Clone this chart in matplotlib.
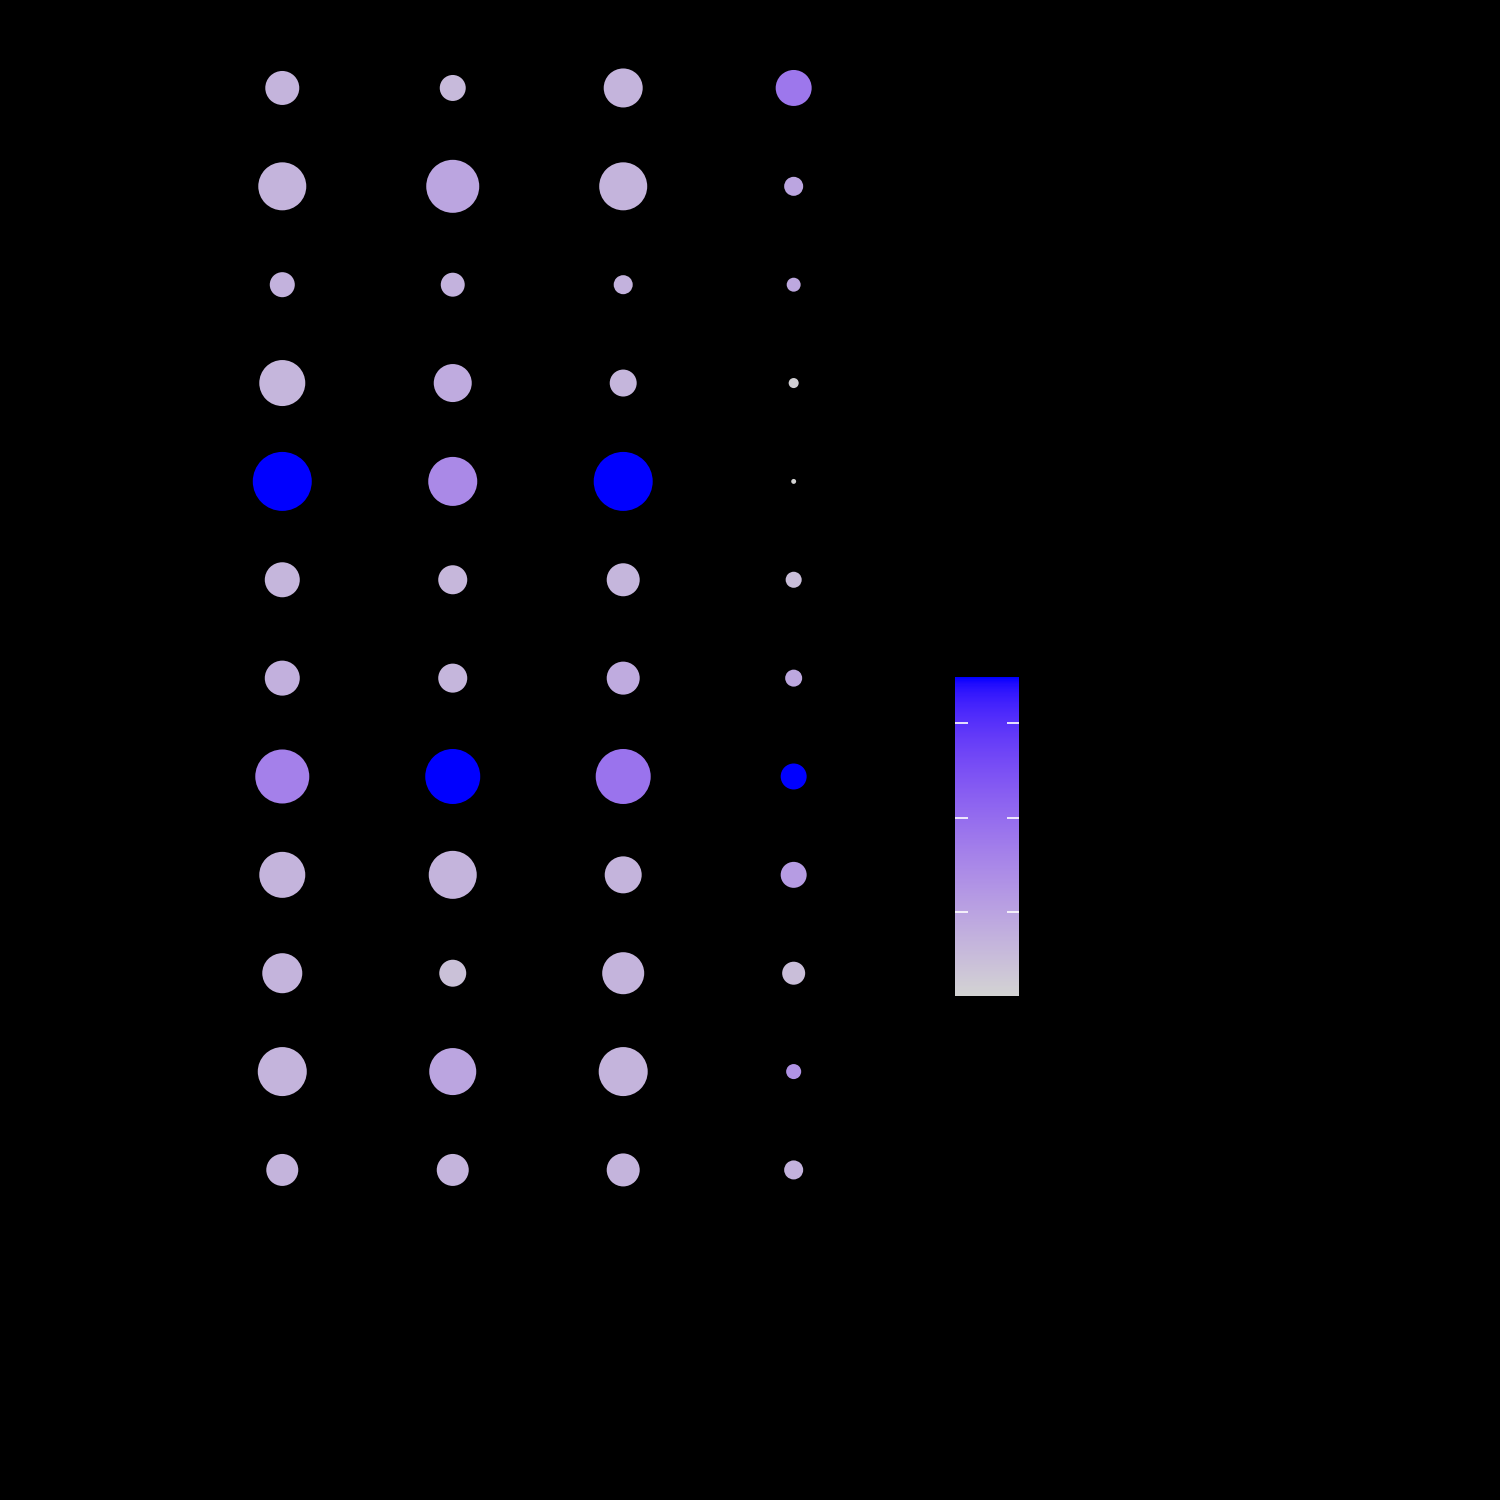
import numpy as np
import matplotlib
matplotlib.use("Agg")
import matplotlib.pyplot as plt
from matplotlib import colors as c
from matplotlib.cm import ScalarMappable

# categories (labels are drawn in black on black, as in the reference)
groups = ["1", "2", "3", "4"]
terms = ["A", "B", "C", "D", "E", "F", "G", "H", "I", "J", "K", "L"]

# size value (percent) per term, one list per group
ratio_g1 = [33.2, 66.2, 18.0, 60.8, 100.0, 35.2, 35.2, 83.8, 60.8, 46.0, 69.0, 29.4]
ratio_g2 = [19.4, 80.7, 16.5, 41.5, 69.0, 24.2, 24.2, 86.9, 66.2, 20.9, 63.5, 29.4]
ratio_g3 = [43.7, 66.2, 10.4, 20.9, 100.0, 31.3, 31.3, 86.9, 39.3, 50.7, 69.0, 31.3]
ratio_g4 = [37.2, 10.4, 5.6, 2.9, 0.7, 7.4, 8.3, 19.4, 19.4, 15.2, 6.5, 10.4]

# colour value per term, one list per group
score_g1 = [0.68, 0.68, 0.72, 0.65, 3.49, 0.65, 0.75, 1.63, 0.68, 0.68, 0.68, 0.68]
score_g2 = [0.58, 0.96, 0.72, 0.85, 1.46, 0.62, 0.65, 3.49, 0.68, 0.45, 0.96, 0.68]
score_g3 = [0.68, 0.68, 0.72, 0.65, 3.49, 0.65, 0.85, 1.87, 0.68, 0.68, 0.68, 0.68]
score_g4 = [1.80, 0.96, 0.90, 0.18, 0.11, 0.50, 0.90, 3.49, 1.12, 0.50, 1.29, 0.72]

colorbar_ticks = [1, 2, 3]


def lab_gradient(c_lo, c_hi, n=256):
    # colour ramp interpolated in CIE Lab, the way ggplot's gradient does it
    def to_lab(rgb):
        rgb = np.asarray(rgb, float)
        lin = np.where(rgb > 0.04045, ((rgb + 0.055) / 1.055) ** 2.4, rgb / 12.92)
        m = np.array([[0.4124, 0.3576, 0.1805],
                      [0.2126, 0.7152, 0.0722],
                      [0.0193, 0.1192, 0.9505]])
        xyz = m @ lin / np.array([0.95047, 1.0, 1.08883])
        f = np.where(xyz > 0.008856, np.cbrt(xyz), 7.787 * xyz + 16 / 116)
        return np.array([116 * f[1] - 16, 500 * (f[0] - f[1]), 200 * (f[1] - f[2])])

    def to_rgb(lab):
        fy = (lab[0] + 16) / 116
        fx = fy + lab[1] / 500
        fz = fy - lab[2] / 200
        f = np.array([fx, fy, fz])
        xyz = np.where(f ** 3 > 0.008856, f ** 3, (f - 16 / 116) / 7.787)
        xyz = xyz * np.array([0.95047, 1.0, 1.08883])
        m = np.array([[3.2406, -1.5372, -0.4986],
                      [-0.9689, 1.8758, 0.0415],
                      [0.0557, -0.2040, 1.0570]])
        lin = m @ xyz
        rgb = np.where(lin > 0.0031308, 1.055 * np.abs(lin) ** (1 / 2.4) - 0.055, 12.92 * lin)
        return np.clip(rgb, 0, 1)

    a, b = to_lab(c.to_rgb(c_lo)), to_lab(c.to_rgb(c_hi))
    cols = [to_rgb(a + (b - a) * t) for t in np.linspace(0, 1, n)]
    return c.ListedColormap(cols)


cmap = lab_gradient("lightgrey", "blue")

ratios = [ratio_g1, ratio_g2, ratio_g3, ratio_g4]
scores = [score_g1, score_g2, score_g3, score_g4]
all_r = np.concatenate(ratios)
all_s = np.concatenate(scores)
norm = c.Normalize(vmin=all_s.min(), vmax=all_s.max())

fig = plt.figure(figsize=(15, 15), dpi=100, facecolor="black")
ax = fig.add_axes([0.12, 0.1807, 0.4773, 0.8])
ax.set_facecolor("black")

# point diameter (px) grows with sqrt of the value
px_to_pt = 72 / 100
for gi, (r, s) in enumerate(zip(ratios, scores)):
    r = np.asarray(r)
    diam = 59 * np.sqrt(r / all_r.max())
    ax.scatter(np.full(len(terms), gi + 1), np.arange(1, len(terms) + 1),
               s=(diam * px_to_pt) ** 2, c=s, cmap=cmap, norm=norm,
               linewidths=0, zorder=3)

ax.set_xlim(0.4, len(groups) + 0.6)
ax.set_ylim(len(terms) + 0.6, 0.4)
ax.set_xticks(range(1, len(groups) + 1))
ax.set_xticklabels(groups, color="black")
ax.set_yticks(range(1, len(terms) + 1))
ax.set_yticklabels(terms, color="black")
ax.tick_params(colors="black")
for sp in ax.spines.values():
    sp.set_visible(False)

# colour bar
cax = fig.add_axes([955 / 1500, 504 / 1500, 64 / 1500, 319 / 1500])
cb = fig.colorbar(ScalarMappable(norm=norm, cmap=cmap), cax=cax)
cb.outline.set_visible(False)
cb.set_ticks(colorbar_ticks)
cax.tick_params(direction="in", left=True, right=True, colors="white",
                length=9, width=1.2, labelcolor="black")

fig.savefig("out.png", dpi=100, facecolor="black")
